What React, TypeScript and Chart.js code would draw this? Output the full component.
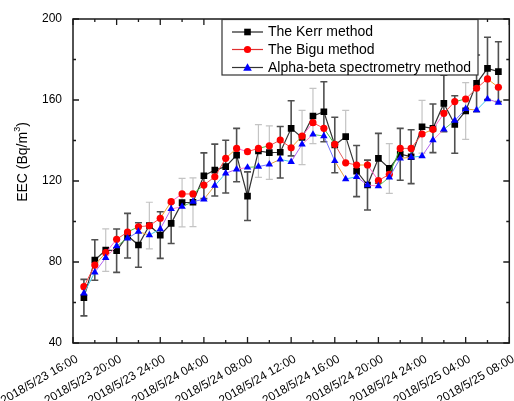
import React, { useEffect, useRef } from "react";
import { Chart, registerables } from "chart.js";

Chart.register(...registerables);

// ---- data ----
const xTickLabels = [
  "2018/5/23 16:00",
  "2018/5/23 20:00",
  "2018/5/23 24:00",
  "2018/5/24 04:00",
  "2018/5/24 08:00",
  "2018/5/24 12:00",
  "2018/5/24 16:00",
  "2018/5/24 20:00",
  "2018/5/24 24:00",
  "2018/5/25 04:00",
  "2018/5/25 08:00",
];

// hours after 2018/5/23 16:00
const hoursSinceStart = [
  1, 2, 3, 4, 5, 6, 7, 8, 9, 10, 11, 12, 13, 14, 15, 16, 17, 18, 19, 20,
  21, 22, 23, 24, 25, 26, 27, 28, 29, 30, 31, 32, 33, 34, 35, 36, 37, 38, 39,
];

const seriesNames = ["The Kerr method", "The Bigu method", "Alpha-beta spectrometry method"];

const kerr = [
  62.4, 81, 85.9, 85.6, 93, 88.4, 98, 93.3, 99.1, 109.3,
  109.5, 122.6, 125.4, 127.1, 132.8, 112.5, 134.8, 134, 134.2, 146,
  141.5, 152.1, 154.2, 137.8, 141.9, 124.9, 118, 131.2, 126.2, 133.2,
  132, 146.8, 146, 158.3, 147.9, 154.6, 168.2, 175.6, 174,
];

const kerrError = [
  9, 10, 10.5, 10.7, 11, 11, 11.5, 11.5, 10, 12,
  12, 11.3, 12.8, 13, 13.2, 12, 13, 13.2, 12.7, 13.6,
  13.4, 13.6, 14.8, 13.7, 13, 12.6, 12.3, 12.3, 12.3, 12.8,
  13.3, 13, 12, 14, 14.2, 14, 14, 15.4, 14.8,
];

const bigu = [
  67.8, 78.5, 84.6, 91.2, 94.8, 97.4, 97.9, 101.6, 109.8, 113.6,
  113.6, 118, 122.1, 131.2, 136.1, 134.5, 136.1, 137.4, 140.2, 136.4,
  142.2, 148.8, 146, 138.1, 129, 127.9, 127.9, 120.2, 123.3, 136.1,
  136.1, 143.2, 145.5, 153.4, 159.2, 160.5, 165.8, 170.4, 166.3,
];

const alphaBeta = [
  64.5, 74.9, 82.1, 87.9, 91.7, 95, 93.3, 96.3, 106.2, 107.3,
  109.8, 111, 117.7, 123.8, 125.8, 126.7, 127.1, 128.2, 130.7, 129.5,
  138.1, 143, 142.2, 129.9, 121, 122.1, 118, 117.5, 121.8, 131.2,
  131.7, 132.3, 140.2, 145.5, 149.8, 155.6, 155, 160.5, 158.7,
];

// ---- styles ----
const lightErrorHours = [3, 7, 10, 11, 17, 18, 21, 22, 25, 29, 32, 36];
const FONT = "'Liberation Sans', Arial, Helvetica, sans-serif";
const biguSegColors = ["#ff4a4a", "#f0a030", "#ff66cc", "#ff4a4a", "#40c040", "#e06060"];
const alphaSegColors = ["#40c8e8", "#b060f0", "#ff80c8", "#60c060", "#7070ff", "#e0a040"];

function toPoints(vals: number[]) {
  return hoursSinceStart.map((h, i) => ({ x: h, y: vals[i] }));
}

function drawMarker(ctx: CanvasRenderingContext2D, kind: string, x: number, y: number, color: string) {
  ctx.save();
  ctx.fillStyle = color;
  ctx.beginPath();
  if (kind === "rect") {
    ctx.rect(x - 3.3, y - 3.3, 6.6, 6.6);
  } else if (kind === "circle") {
    ctx.arc(x, y, 3.6, 0, Math.PI * 2);
  } else {
    ctx.moveTo(x, y - 4.2);
    ctx.lineTo(x + 4.3, y + 3.2);
    ctx.lineTo(x - 4.3, y + 3.2);
    ctx.closePath();
  }
  ctx.fill();
  ctx.restore();
}

const decorPlugin = {
  id: "decor",
  beforeDatasetsDraw(chart: any) {
    const ctx: CanvasRenderingContext2D = chart.ctx;
    const xs = chart.scales.x;
    const ys = chart.scales.y;
    ctx.save();
    hoursSinceStart.forEach((h, i) => {
      const light = lightErrorHours.includes(h);
      const px = xs.getPixelForValue(h);
      const top = ys.getPixelForValue(kerr[i] + kerrError[i]);
      const bot = ys.getPixelForValue(kerr[i] - kerrError[i]);
      ctx.strokeStyle = light ? "#c4c4c4" : "#505050";
      ctx.lineWidth = light ? 1.2 : 1.6;
      ctx.beginPath();
      ctx.moveTo(px, top);
      ctx.lineTo(px, bot);
      ctx.moveTo(px - 3.5, top);
      ctx.lineTo(px + 3.5, top);
      ctx.moveTo(px - 3.5, bot);
      ctx.lineTo(px + 3.5, bot);
      ctx.stroke();
    });
    ctx.restore();
  },
  afterDraw(chart: any) {
    const ctx: CanvasRenderingContext2D = chart.ctx;
    const a = chart.chartArea;
    const xs = chart.scales.x;
    const ys = chart.scales.y;
    ctx.save();
    // frame
    ctx.strokeStyle = "#1a1a1a";
    ctx.lineWidth = 1.5;
    ctx.strokeRect(a.left, a.top, a.right - a.left, a.bottom - a.top);
    // inner ticks
    ctx.lineWidth = 1.3;
    ctx.beginPath();
    for (let v = 0; v <= 40; v += 2) {
      const px = xs.getPixelForValue(v);
      const len = v % 4 === 0 ? 6 : 3;
      ctx.moveTo(px, a.bottom);
      ctx.lineTo(px, a.bottom - len);
      ctx.moveTo(px, a.top);
      ctx.lineTo(px, a.top + len);
    }
    for (let v = 40; v <= 200; v += 20) {
      const py = ys.getPixelForValue(v);
      const len = v % 40 === 0 ? 6 : 3;
      ctx.moveTo(a.left, py);
      ctx.lineTo(a.left + len, py);
      ctx.moveTo(a.right, py);
      ctx.lineTo(a.right - len, py);
    }
    ctx.stroke();

    // legend
    const lx0 = 222, lx1 = 478, ly0 = 19.5, ly1 = 75;
    ctx.fillStyle = "#ffffff";
    ctx.fillRect(lx0, ly0, lx1 - lx0, ly1 - ly0);
    ctx.strokeStyle = "#333333";
    ctx.lineWidth = 1.2;
    ctx.strokeRect(lx0, ly0, lx1 - lx0, ly1 - ly0);
    const rows = [
      { y: 32, line: "#222222", kind: "rect", color: "#000000" },
      { y: 49.5, line: "#e03030", kind: "circle", color: "#ff0000" },
      { y: 67.5, line: "#333333", kind: "triangle", color: "#0000ff" },
    ];
    ctx.font = `14px ${FONT}`;
    ctx.textBaseline = "middle";
    ctx.textAlign = "left";
    rows.forEach((r, i) => {
      ctx.strokeStyle = r.line;
      ctx.lineWidth = 1.2;
      ctx.beginPath();
      ctx.moveTo(232, r.y);
      ctx.lineTo(263, r.y);
      ctx.stroke();
      drawMarker(ctx, r.kind, 247.5, r.y, r.color);
      ctx.fillStyle = "#000000";
      ctx.fillText(seriesNames[i], 268, r.y + 0.5);
    });

    // y-axis title with superscript
    ctx.translate(23, 162);
    ctx.rotate(-Math.PI / 2);
    const main = "EEC (Bq/m";
    const sup = "3";
    const end = ")";
    ctx.font = `14px ${FONT}`;
    const w1 = ctx.measureText(main).width;
    const w3 = ctx.measureText(end).width;
    ctx.font = `9px ${FONT}`;
    const w2 = ctx.measureText(sup).width;
    const total = w1 + w2 + w3;
    let x = -total / 2;
    ctx.fillStyle = "#000000";
    ctx.textBaseline = "middle";
    ctx.font = `14px ${FONT}`;
    ctx.fillText(main, x, 0);
    x += w1;
    ctx.font = `9px ${FONT}`;
    ctx.fillText(sup, x, -5);
    x += w2;
    ctx.font = `14px ${FONT}`;
    ctx.fillText(end, x, 0);
    ctx.restore();
  },
};

export default function App() {
  const ref = useRef<HTMLCanvasElement | null>(null);
  useEffect(() => {
    if (!ref.current) return;
    Chart.defaults.font.family = FONT;
    const chart = new Chart(ref.current, {
      type: "line",
      data: {
        datasets: [
          {
            label: seriesNames[0],
            data: toPoints(kerr),
            borderColor: "#333333",
            borderWidth: 1.2,
            backgroundColor: "#000000",
            pointStyle: "rect",
            pointRadius: 4.7,
            pointBorderWidth: 0,
            pointBackgroundColor: "#000000",
            order: 3,
          },
          {
            label: seriesNames[1],
            data: toPoints(bigu),
            borderColor: "#ff4a4a",
            borderWidth: 1,
            backgroundColor: "#ff0000",
            pointStyle: "circle",
            pointRadius: 3.6,
            pointBorderWidth: 0,
            pointBackgroundColor: "#ff0000",
            segment: {
              borderColor: (c: any) => biguSegColors[c.p0DataIndex % biguSegColors.length],
            },
            order: 2,
          },
          {
            label: seriesNames[2],
            data: toPoints(alphaBeta),
            borderColor: "#7070ff",
            borderWidth: 1,
            backgroundColor: "#0000ff",
            pointStyle: "triangle",
            pointRadius: 4.3,
            pointBorderWidth: 0,
            pointBackgroundColor: "#0000ff",
            segment: {
              borderColor: (c: any) => alphaSegColors[c.p0DataIndex % alphaSegColors.length],
            },
            order: 1,
          },
        ],
      },
      options: {
        responsive: false,
        animation: false,
        devicePixelRatio: 1,
        layout: { padding: { left: 0, right: 0, top: 19, bottom: 0 } },
        plugins: {
          legend: { display: false },
          tooltip: { enabled: false },
        },
        scales: {
          x: {
            type: "linear",
            min: 0,
            max: 40,
            grid: { display: false, drawTicks: false },
            border: { display: false },
            ticks: {
              stepSize: 4,
              autoSkip: false,
              minRotation: 30,
              maxRotation: 30,
              padding: 9,
              labelOffset: 4,
              color: "#000000",
              font: { size: 12, family: FONT },
              callback: (v: any) => xTickLabels[Math.round(Number(v) / 4)] ?? "",
            },
            afterFit: (s: any) => {
              s.height = 58;
              s.paddingRight = 0;
              s.paddingLeft = 0;
            },
          },
          y: {
            type: "linear",
            min: 40,
            max: 200,
            grid: { display: false, drawTicks: false },
            border: { display: false },
            ticks: {
              stepSize: 40,
              padding: 11,
              color: "#000000",
              font: { size: 12, family: FONT },
            },
            afterFit: (s: any) => {
              s.width = 73;
              s.paddingTop = 0;
              s.paddingBottom = 0;
            },
          },
        },
      },
      plugins: [decorPlugin],
    });
    return () => chart.destroy();
  }, []);
  return (
    <div style={{ position: "fixed", left: 0, top: 0, width: 514, height: 401, background: "#fff" }}>
      <canvas ref={ref} width={514} height={401} style={{ display: "block" }} />
    </div>
  );
}
